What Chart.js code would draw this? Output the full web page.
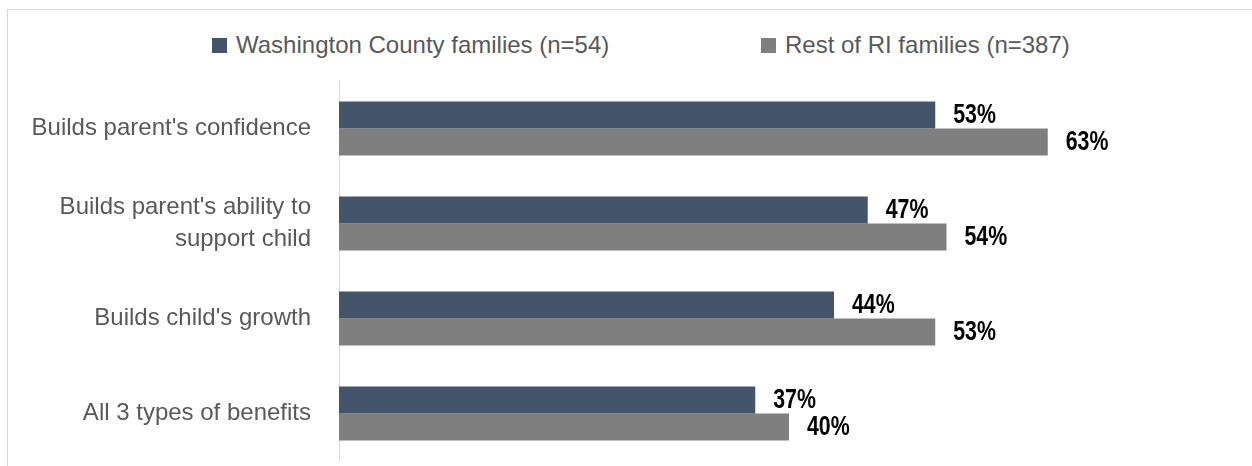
<!DOCTYPE html>
<html>
<head>
<meta charset="utf-8">
<title>Benefits by family group</title>
<script src="https://cdn.jsdelivr.net/npm/chart.js@4/dist/chart.umd.min.js"></script>
<style>
  html, body { margin: 0; padding: 0; background: #fff; overflow: hidden; }
  #wrap { position: relative; width: 1252px; height: 466px; overflow: hidden; }
  #frame {
    position: absolute; left: 7px; top: 9px; width: 1300px; height: 500px;
    border-top: 1px solid #d9d9d9; border-left: 1px solid #d9d9d9;
  }
  #legend { position: absolute; top: 30px; left: 0; width: 100%; height: 30px; }
  .item {
    position: absolute; top: 0; display: flex; align-items: center; height: 30px;
    font-family: "Liberation Sans", Arial, sans-serif; font-size: 24px; color: #595959;
    white-space: nowrap;
  }
  .swatch { width: 15px; height: 15px; margin-right: 9px; }
  #benefitsChart { position: absolute; left: 0; top: 0; }
</style>
</head>
<body>
<div id="wrap">
  <div id="frame"></div>
  <div id="legend"></div>
  <canvas id="benefitsChart" width="1252" height="466"></canvas>
</div>
<script>
// 항목과 값 (%)
const categories = [
    "Builds parent's confidence",
    ["Builds parent's ability to", "support child"],
    "Builds child's growth",
    "All 3 types of benefits"
];
const washingtonValues = [53, 47, 44, 37];
const restOfRIValues = [63, 54, 53, 40];
const seriesNames = ['Washington County families (n=54)', 'Rest of RI families (n=387)'];
const seriesColors = ['#44546a', '#7f7f7f'];

// 범례 (HTML)
function buildLegend() {
    const lefts = [212, 761];
    const legend = document.getElementById('legend');
    seriesNames.forEach(function(name, i) {
        const item = document.createElement('div');
        item.className = 'item';
        item.style.left = lefts[i] + 'px';
        const sw = document.createElement('span');
        sw.className = 'swatch';
        sw.style.background = seriesColors[i];
        const txt = document.createElement('span');
        txt.textContent = name;
        item.appendChild(sw);
        item.appendChild(txt);
        legend.appendChild(item);
    });
}

// 막대 끝에 값 표시 (좁은 굵은 글꼴 느낌으로 가로 압축)
const valueLabels = {
    id: 'valueLabels',
    afterDatasetsDraw(chart) {
        const ctx = chart.ctx;
        const squeeze = 0.79;
        ctx.save();
        ctx.font = 'bold 27px "Liberation Sans", Arial, sans-serif';
        ctx.fillStyle = '#000';
        ctx.textAlign = 'left';
        ctx.textBaseline = 'middle';
        chart.data.datasets.forEach(function(ds, i) {
            chart.getDatasetMeta(i).data.forEach(function(bar, j) {
                ctx.save();
                ctx.translate(bar.x + 18, bar.y + 1);
                ctx.scale(squeeze, 1);
                ctx.fillText(ds.data[j] + '%', 0, 0);
                ctx.restore();
            });
        });
        ctx.restore();
    }
};

function initChart() {
    const ctx = document.getElementById('benefitsChart').getContext('2d');
    new Chart(ctx, {
        type: 'bar',
        data: {
            labels: categories,
            datasets: [{
                label: seriesNames[0],
                data: washingtonValues,
                backgroundColor: seriesColors[0]
            }, {
                label: seriesNames[1],
                data: restOfRIValues,
                backgroundColor: seriesColors[1]
            }]
        },
        options: {
            indexAxis: 'y',
            responsive: false,
            animation: false,
            categoryPercentage: 0.57,
            barPercentage: 1.0,
            layout: { padding: { top: 81, right: 13, bottom: 5, left: 0 } },
            plugins: {
                legend: { display: false },
                tooltip: { enabled: false }
            },
            scales: {
                x: {
                    min: 0,
                    max: 80,
                    display: false
                },
                y: {
                    grid: { display: false, drawTicks: false },
                    border: { display: true, color: '#d9d9d9', width: 1 },
                    ticks: {
                        color: '#595959',
                        padding: 28,
                        font: { family: '"Liberation Sans", Arial, sans-serif', size: 24, lineHeight: 1.33 }
                    },
                    // 축 너비 고정, 위아래 여백은 layout padding만 사용
                    afterFit: function(scale) {
                        scale.width = 339;
                        scale.paddingTop = 0;
                        scale.paddingBottom = 0;
                    }
                }
            }
        },
        plugins: [valueLabels]
    });
}

document.addEventListener('DOMContentLoaded', function() {
    buildLegend();
    initChart();
});
</script>
</body>
</html>
